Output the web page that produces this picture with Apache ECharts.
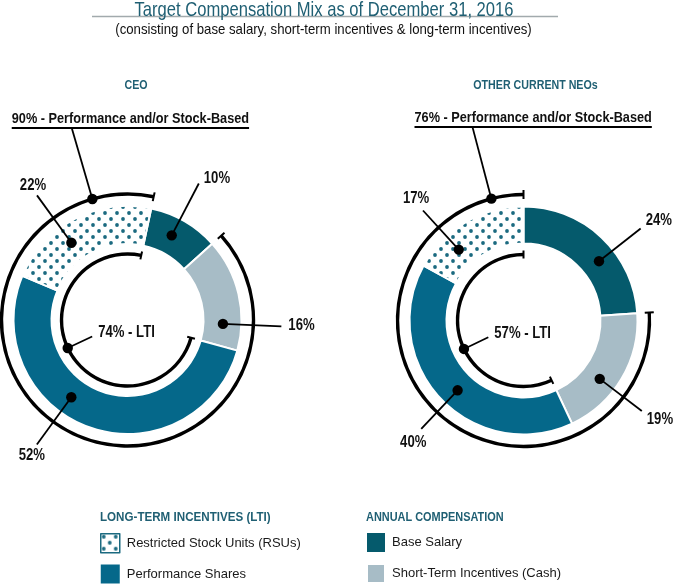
<!DOCTYPE html>
<html><head><meta charset="utf-8">
<script src="https://cdn.jsdelivr.net/npm/echarts@6/dist/echarts.min.js"></script>
<style>html,body{margin:0;padding:0;background:#fff}#chart{width:676px;height:584px}</style>
</head><body><div id="chart"></div>
<script>
// ---------- data ----------
const categories = ['Base Salary', 'Short-Term Incentives (Cash)', 'Performance Shares', 'Restricted Stock Units (RSUs)'];
const groupNames = ['CEO', 'OTHER CURRENT NEOs'];
const ceoValues = [10, 16, 52, 22];
const neoValues = [24, 19, 40, 17];
const perfStockBased = [90, 76];
const ltiShare = [74, 57];
const titleText = 'Target Compensation Mix as of December 31, 2016';
const subtitleText = '(consisting of base salary, short-term incentives & long-term incentives)';
const legendHeaders = ['LONG-TERM INCENTIVES (LTI)', 'ANNUAL COMPENSATION'];
const legendLTI = ['Restricted Stock Units (RSUs)', 'Performance Shares'];
const legendAnnual = ['Base Salary', 'Short-Term Incentives (Cash)'];
const psbSuffix = ' - Performance and/or Stock-Based';
const ltiSuffix = ' - LTI';
const valueSets = [ceoValues, neoValues];

// ---------- style / layout ----------
const FONT = "'Liberation Sans',Arial,sans-serif";
const NARROW = 0.82;
const C = { base: '#055a6c', sti: '#a7bcc6', perf: '#05688a', dot: '#1b6a80', teal: '#1f5f73', ink: '#111' };
const layouts = [
  { center: [127.5, 320], start: 12, rIn: 76, rOut: 114, rDot: 95.5, rLab: 154, rOuterArc: 126, rInnerArc: 66,
    segFrac: [0.433, 0.77, 0.59, 0.394],
    segLab: [{align:'left',dx:5,dy:-5},{align:'left',dx:7,dy:-1},{align:'center',dx:-5,dy:11},{align:'center',dx:-4,dy:-10}],
    psbFrac: 0.913, ltiFrac: 0.523, psbEndR: 200, ltiEndR: 39, psbText: {dx: -60, dy: -9}, ltiText: {dx: 6, dy: -4},
    header: [136, 85] },
  { center: [523.5, 320.5], start: 0, rIn: 77, rOut: 114, rDot: 96, rLab: 149, rOuterArc: 126, rInnerArc: 66,
    segFrac: [0.60, 0.60, 0.476, 0.307],
    segLab: [{align:'left',dx:5,dy:-8},{align:'left',dx:5,dy:9},{align:'center',dx:-8,dy:14},{align:'center',dx:-7,dy:-12}],
    psbFrac: 0.946, ltiFrac: 0.437, psbEndR: 200, ltiEndR: 39, psbText: {dx: -58, dy: -9}, ltiText: {dx: 6, dy: -4},
    header: [535.5, 85] }
];

function dotPattern() {
  const s = 12;
  const c = document.createElement('canvas'); c.width = s; c.height = s;
  const g = c.getContext('2d'); g.fillStyle = '#fff'; g.fillRect(0, 0, s, s);
  g.fillStyle = C.dot;
  [[s / 4, s / 4], [3 * s / 4, 3 * s / 4]].forEach(([x, y]) => { g.beginPath(); g.arc(x, y, 1.9, 0, Math.PI * 2); g.fill(); });
  return c;
}
const rsuFill = { image: dotPattern(), repeat: 'repeat' };
const segColors = [C.base, C.sti, C.perf, rsuFill];

const measureCtx = document.createElement('canvas').getContext('2d');
function textWidth(t, font) { measureCtx.font = font; return measureCtx.measureText(t).width; }

const series = [], polar = [], radiusAxis = [], angleAxis = [];

layouts.forEach((L, ci) => {
  const vals = valueSets[ci];
  polar.push({ center: L.center, radius: 200 });
  radiusAxis.push({ polarIndex: ci, type: 'value', min: 0, max: 200, show: false });
  angleAxis.push({ polarIndex: ci, type: 'value', min: 0, max: 100, startAngle: 90 - L.start, clockwise: true, show: false,
    axisLine: {show:false}, axisTick: {show:false}, axisLabel: {show:false}, splitLine: {show:false} });

  // donut
  series.push({ type: 'pie', center: L.center, radius: [L.rIn, L.rOut], startAngle: 90 - L.start, clockwise: true,
    silent: true, animation: false, label: {show:false}, labelLine: {show:false},
    itemStyle: { borderColor: '#fff', borderWidth: 2 },
    data: categories.map((n, i) => ({ name: n, value: vals[i], itemStyle: { color: segColors[i] } })) });

  // outer arc: performance and/or stock-based
  series.push({ type: 'pie', center: L.center, radius: [L.rOuterArc - 1.7, L.rOuterArc + 1.7], startAngle: 90 - L.start,
    clockwise: true, silent: true, animation: false, label: {show:false}, labelLine: {show:false},
    data: [ { name: 'gap-o', value: 100 - perfStockBased[ci], itemStyle: { color: 'rgba(0,0,0,0)' } },
            { name: 'psb', value: perfStockBased[ci], itemStyle: { color: '#000' } } ] });
  // inner arc: LTI
  series.push({ type: 'pie', center: L.center, radius: [L.rInnerArc - 1.7, L.rInnerArc + 1.7], startAngle: 90 - L.start,
    clockwise: true, silent: true, animation: false, label: {show:false}, labelLine: {show:false},
    data: [ { name: 'gap-i', value: 100 - ltiShare[ci], itemStyle: { color: 'rgba(0,0,0,0)' } },
            { name: 'lti', value: ltiShare[ci], itemStyle: { color: '#000' } } ] });

  // annotations
  const cum = [0]; vals.forEach(v => cum.push(cum[cum.length - 1] + v));
  const items = [];
  vals.forEach((v, i) => items.push({ kind: 'seg', a: cum[i] + L.segFrac[i] * v, r1: L.rDot, r2: L.rLab, text: v + '%', lab: L.segLab[i] }));
  const psbStart = 100 - perfStockBased[ci];
  items.push({ kind: 'psb', a: psbStart + L.psbFrac * perfStockBased[ci], r1: L.rOuterArc, r2: L.psbEndR, text: perfStockBased[ci] + '%' + psbSuffix });
  const ltiStart = 100 - ltiShare[ci];
  items.push({ kind: 'lti', a: ltiStart + L.ltiFrac * ltiShare[ci], r1: L.rInnerArc, r2: L.ltiEndR, text: ltiShare[ci] + '%' + ltiSuffix });
  [psbStart, 100].forEach(a => items.push({ kind: 'tick', a, r1: L.rOuterArc - 4.5, r2: L.rOuterArc + 4.5 }));
  [ltiStart, 100].forEach(a => items.push({ kind: 'tick', a, r1: L.rInnerArc - 4, r2: L.rInnerArc + 4 }));

  series.push({ type: 'custom', coordinateSystem: 'polar', polarIndex: ci, silent: true, animation: false, z: 10,
    data: items.map(it => [it.r1, it.a]),
    renderItem: (params, api) => {
      const it = items[params.dataIndex];
      const p1 = api.coord([it.r1, it.a]), p2 = api.coord([it.r2, it.a]);
      const line = { type: 'line', shape: { x1: p1[0], y1: p1[1], x2: p2[0], y2: p2[1] }, style: { stroke: '#000', lineWidth: it.kind === 'tick' ? 2 : 1.8 } };
      if (it.kind === 'tick') return line;
      const ch = [line, { type: 'circle', shape: { cx: p1[0], cy: p1[1], r: 5.2 }, style: { fill: '#000' } }];
      if (it.kind === 'seg') {
        ch.push({ type: 'text', x: p2[0] + it.lab.dx, y: p2[1] + it.lab.dy, scaleX: NARROW,
          style: { text: it.text, font: 'bold 16px ' + FONT, fill: C.ink, align: it.lab.align, verticalAlign: 'middle' } });
      } else if (it.kind === 'psb') {
        const f = 'bold 15.5px ' + FONT;
        const w = textWidth(it.text, f) * NARROW;
        const x0 = p2[0] + L.psbText.dx;
        ch.push({ type: 'text', x: x0, y: p2[1] + L.psbText.dy, scaleX: NARROW, style: { text: it.text, font: f, fill: C.ink, align: 'left', verticalAlign: 'middle' } });
        ch.push({ type: 'line', shape: { x1: x0, y1: p2[1], x2: x0 + w, y2: p2[1] }, style: { stroke: '#000', lineWidth: 2 } });
      } else {
        ch.push({ type: 'text', x: p2[0] + L.ltiText.dx, y: p2[1] + L.ltiText.dy, scaleX: NARROW,
          style: { text: it.text, font: 'bold 16px ' + FONT, fill: C.ink, align: 'left', verticalAlign: 'middle' } });
      }
      return { type: 'group', children: ch };
    } });
});

const graphic = [
  { type: 'line', shape: { x1: 92, y1: 16.5, x2: 558, y2: 16.5 }, style: { stroke: '#a2aaad', lineWidth: 1.5 }, z: 1 },
  { type: 'text', x: 324, y: 10.5, z: 2, scaleX: 0.79, style: { text: titleText, font: '21px ' + FONT, fill: C.teal, align: 'center', verticalAlign: 'middle' } },
  { type: 'text', x: 323.5, y: 29.5, scaleX: 0.88, style: { text: subtitleText, font: '15px ' + FONT, fill: C.ink, align: 'center', verticalAlign: 'middle' } },
  { type: 'text', x: layouts[0].header[0], y: layouts[0].header[1], scaleX: NARROW, style: { text: groupNames[0], font: 'bold 13px ' + FONT, fill: C.teal, align: 'center', verticalAlign: 'middle' } },
  { type: 'text', x: layouts[1].header[0], y: layouts[1].header[1], scaleX: NARROW, style: { text: groupNames[1], font: 'bold 13px ' + FONT, fill: C.teal, align: 'center', verticalAlign: 'middle' } },
  { type: 'text', x: 100, y: 517, scaleX: 0.86, style: { text: legendHeaders[0], font: 'bold 13.5px ' + FONT, fill: C.teal, align: 'left', verticalAlign: 'middle' } },
  { type: 'text', x: 366, y: 517, scaleX: 0.81, style: { text: legendHeaders[1], font: 'bold 13.5px ' + FONT, fill: C.teal, align: 'left', verticalAlign: 'middle' } }
];

const legendText = { fontFamily: FONT, fontSize: 13, color: '#1a1a1a', padding: [0, 0, 0, 2] };
const legend = [
  { left: 100, top: 533, height: 60, padding: 0, orient: 'vertical', icon: 'rect', itemWidth: 19, itemHeight: 19, itemGap: 11, selectedMode: false,
    textStyle: legendText,
    data: [ { name: legendLTI[0], itemStyle: { borderColor: C.dot, borderWidth: 1.5 } },
            { name: legendLTI[1], itemStyle: { borderWidth: 0 } } ] },
  { left: 366, top: 533, height: 60, padding: 0, orient: 'vertical', icon: 'rect', itemWidth: 18, itemHeight: 19, itemGap: 11, selectedMode: false,
    textStyle: legendText,
    data: [ { name: legendAnnual[0], itemStyle: { borderWidth: 0 } },
            { name: legendAnnual[1], itemStyle: { borderColor: '#fff', borderWidth: 2 } } ] }
];

const chart = echarts.init(document.getElementById('chart'), null, { renderer: 'canvas' });
chart.setOption({ animation: false, backgroundColor: '#fff', polar, radiusAxis, angleAxis, legend, graphic, series });
</script></body></html>
